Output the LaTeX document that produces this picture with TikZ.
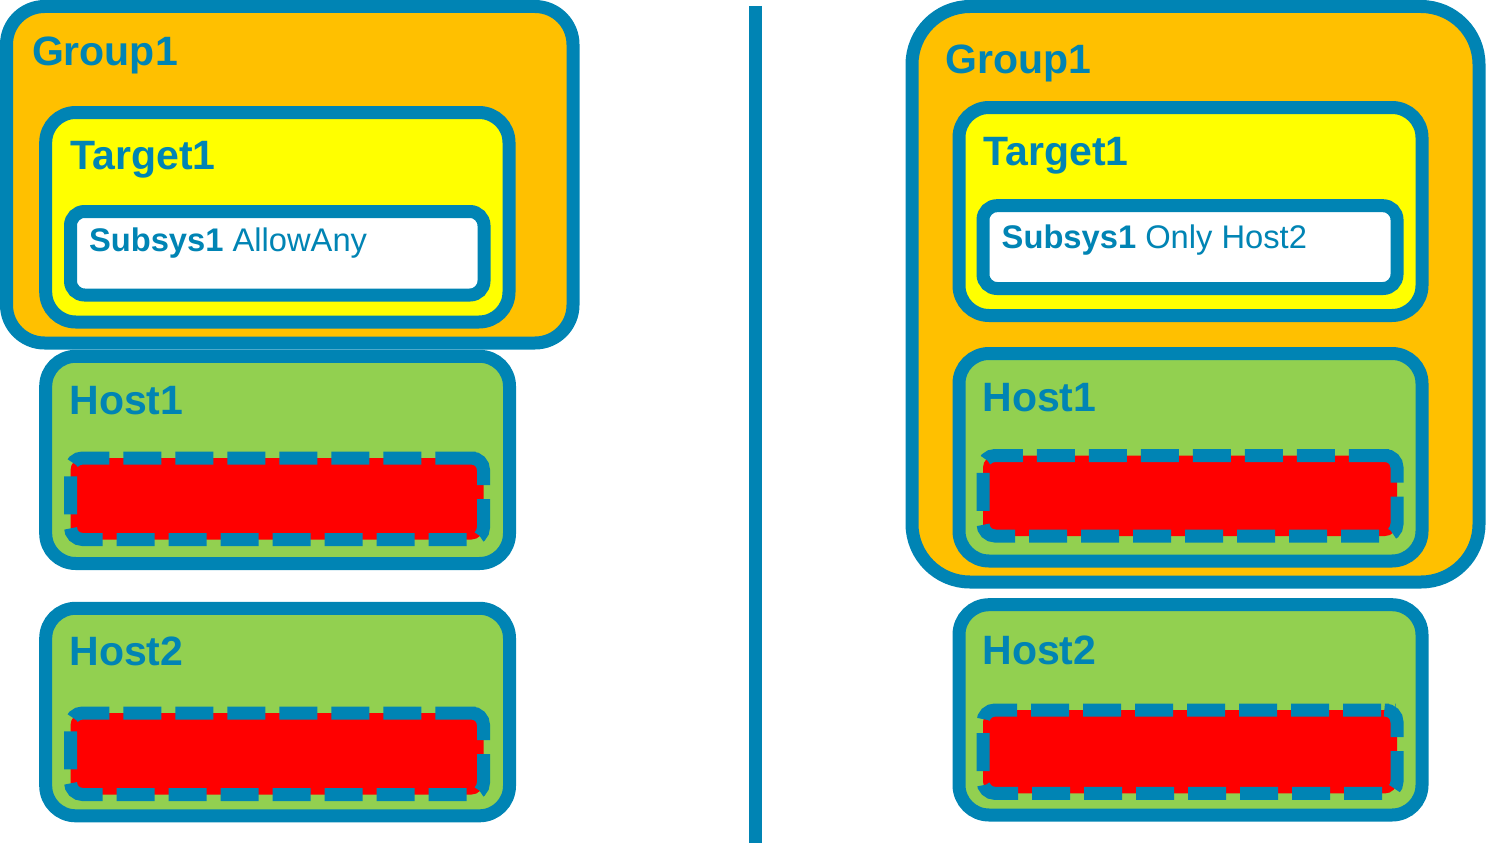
\documentclass[tikz,border=0pt]{standalone}
\usepackage{fontspec}
\setmainfont{Liberation Sans}
\definecolor{bl}{RGB}{0,132,180}
\definecolor{org}{RGB}{255,192,0}
\definecolor{yel}{RGB}{255,255,0}
\definecolor{grn}{RGB}{146,208,80}
\definecolor{rd}{RGB}{255,0,0}
\tikzset{
  box/.style={draw=bl, line width=13pt, rounded corners=#1, inner sep=0pt, outer sep=0pt, anchor=north west, shape=rectangle},
  dbox/.style={draw=bl, fill=rd, line width=13pt, rounded corners=12pt, dash pattern=on 38pt off 14pt, dash phase=45.65pt, line cap=butt},
  big/.style={text=bl, inner sep=0pt, anchor=base west, font=\fontsize{41}{48}\selectfont\bfseries},
  small/.style={text=bl, inner sep=0pt, anchor=base west, font=\fontsize{32.7}{40}\selectfont},
  divider/.style={draw=bl, line width=13pt, line cap=butt}
}
\begin{document}
\begin{tikzpicture}[x=1pt,y=-1pt]
\useasboundingbox (0,0) rectangle (1486,851);
% ---------- left ----------
\node[box=38pt, fill=org, minimum width=566.5pt, minimum height=336.5pt] (gL) at (6.5,6.5) {};
\node[box=30pt, fill=yel, minimum width=463.3pt, minimum height=209.5pt] (tL) at (45.7,112.5) {};
\node[box=14pt, fill=white, minimum width=413.5pt, minimum height=83.5pt] (sL) at (70.5,211.5) {};
\node[box=30pt, fill=grn, minimum width=463.8pt, minimum height=207.2pt] (h1L) at (45.7,356.3) {};
\node[box=30pt, fill=grn, minimum width=463.8pt, minimum height=207.5pt] (h2L) at (45.7,608.3) {};
\draw[dbox] (470,458) -- (483.5,458) -- (483.5,539.5) -- (70.5,539.5) -- (70.5,458) -- cycle;
\draw[dbox] (470,713) -- (483.5,713) -- (483.5,794.5) -- (70.5,794.5) -- (70.5,713) -- cycle;
\node[big] (gLt) at (31.8,66) {Group1};
\node[big] (tLt) at (70.2,169) {Target1};
\node[small] (sLt) at (88.8,251.7) {\bfseries Subsys1 \mdseries AllowAny};
\node[big] (h1Lt) at (69.2,414) {Host1};
\node[big] (h2Lt) at (69.2,665.7) {Host2};
% ---------- divider ----------
\coordinate (dTop) at (755,6);
\coordinate (dBot) at (755,843);
\draw[divider] (dTop) -- (dBot);
% ---------- right ----------
\node[box=58pt, fill=org, minimum width=567pt, minimum height=575.5pt] (gR) at (912,6.5) {};
\node[box=30pt, fill=yel, minimum width=463pt, minimum height=208pt] (tR) at (959,107.5) {};
\node[box=14pt, fill=white, minimum width=414pt, minimum height=82.8pt] (sR) at (983,205.7) {};
\node[box=30pt, fill=grn, minimum width=463pt, minimum height=207.5pt] (h1R) at (959,353.5) {};
\node[box=30pt, fill=grn, minimum width=463pt, minimum height=210.3pt] (h2R) at (959,604.7) {};
\draw[dbox] (1383.5,455.5) -- (1397,455.5) -- (1397,536) -- (983,536) -- (983,455.5) -- cycle;
\draw[dbox] (1383.5,710) -- (1397,710) -- (1397,793.4) -- (983,793.4) -- (983,710) -- cycle;
\node[big] (gRt) at (945.4,73.3) {Group1};
\node[big] (tRt) at (983.4,165.7) {Target1};
\node[small] (sRt) at (1001.5,248) {\bfseries Subsys1 \mdseries Only Host2};
\node[big] (h1Rt) at (982.2,411) {Host1};
\node[big] (h2Rt) at (982.2,664) {Host2};
\end{tikzpicture}
\end{document}
